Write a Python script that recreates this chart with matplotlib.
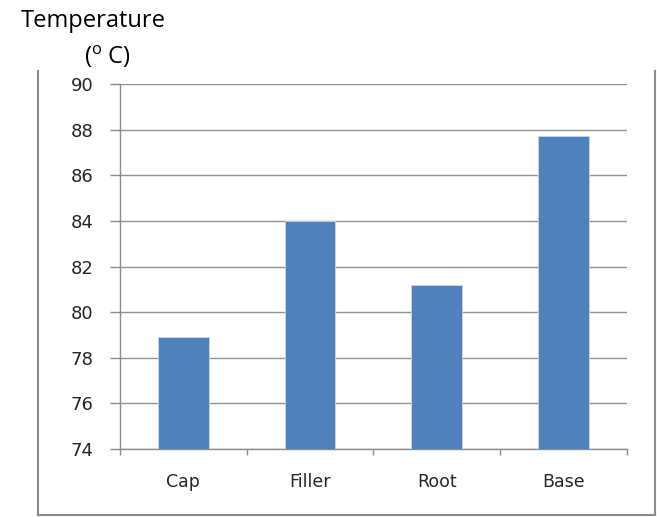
import matplotlib.pyplot as plt
from matplotlib.lines import Line2D

plt.rcParams['mathtext.fontset'] = 'custom'
plt.rcParams['mathtext.rm'] = 'Open Sans'

parts = ['Cap', 'Filler', 'Root', 'Base']
temps = [78.9, 84.0, 81.2, 87.7]
yticks = [74, 76, 78, 80, 82, 84, 86, 88, 90]

fig = plt.figure(figsize=(6.57, 5.17), dpi=100)
ax = fig.add_axes([0.1826, 0.1315, 0.7717, 0.706])

xs = range(len(parts))
ax.bar(xs, temps, width=0.40, color='#4f81bd', edgecolor='#c5d6ea', linewidth=0.6,
       zorder=3)
ax.set_ylim(74, 90)
ax.set_xlim(-0.5, len(parts) - 0.5)
ax.set_yticks(yticks)
ax.set_xticks(xs)
ax.set_xticklabels(parts)
ax.set_xticks([i - 0.5 for i in range(len(parts) + 1)], minor=True)
ax.tick_params(axis='x', which='major', length=0, pad=17, labelsize=12.5, labelcolor='#262626')
ax.tick_params(axis='x', which='minor', length=4, width=1, color='#8c8c8c', direction='out')
ax.tick_params(axis='y', length=7, width=1, color='#8c8c8c', pad=12, labelsize=13,
               labelcolor='#262626')
for lab in ax.get_xticklabels() + ax.get_yticklabels():
    lab.set_fontfamily('DejaVu Sans')

ax.grid(axis='y', color='#939393', linewidth=1)
ax.set_axisbelow(True)
for s in ['top', 'right']:
    ax.spines[s].set_visible(False)
for s in ['left', 'bottom']:
    ax.spines[s].set_color('#8c8c8c')
    ax.spines[s].set_linewidth(1)

# outer chart border (open at the top)
bx0, bx1, by0, by1 = 0.058, 0.997, 0.003, 0.862
for xd, yd in [([bx0, bx0], [by1, by0]), ([bx0, bx1], [by0, by0]), ([bx1, bx1], [by0, by1])]:
    fig.add_artist(Line2D(xd, yd, color='#8a8a8a', linewidth=1.5, transform=fig.transFigure))

fig.text(0.1416, 0.959, 'Temperature', fontsize=17, family='Open Sans', ha='center',
         va='center', color='black')
fig.text(0.163, 0.89, r'($^{\mathrm{o}}$ C)', fontsize=17, family='Open Sans',
         ha='center', va='center', color='black')

fig.savefig('out.png', dpi=100)
